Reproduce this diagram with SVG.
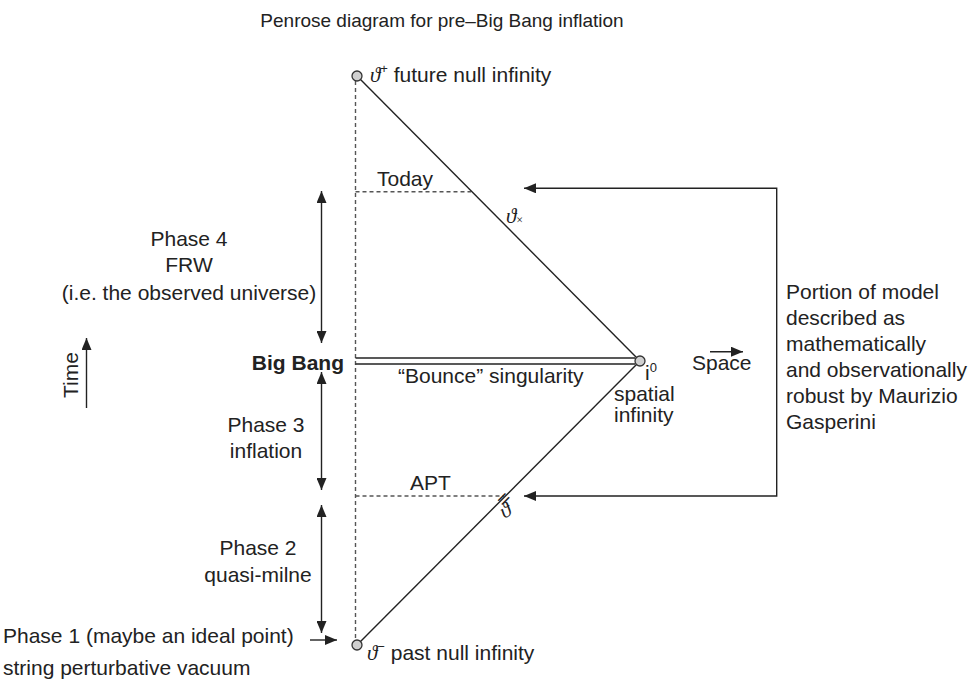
<svg xmlns="http://www.w3.org/2000/svg" width="977" height="685" viewBox="0 0 977 685">
<style>
text{font-family:"Liberation Sans",Arial,Helvetica,sans-serif;font-size:21px;fill:#222}
.title{font-size:19px}
.bold{font-weight:bold}
.scri{font-family:"Liberation Serif","DejaVu Serif",serif;font-style:italic;font-size:21px}
.sup{font-size:13px}
.ln{stroke:#222;stroke-width:1.4;fill:none}
.dash{stroke:#555;stroke-width:1.4;stroke-dasharray:4 3;fill:none}
.pt{fill:#d0d0d0;stroke:#333;stroke-width:1.3}
</style>
<defs>
<marker id="ah" viewBox="0 0 12 10" refX="12" refY="5" markerWidth="12" markerHeight="10" markerUnits="userSpaceOnUse" orient="auto-start-reverse">
<path d="M0,0 L12,5 L0,10 Z" fill="#222"/>
</marker>
</defs>
<text class="title" x="442" y="27" text-anchor="middle">Penrose diagram for pre–Big Bang inflation</text>
<g id="connectors">
<line class="dash" x1="355.5" y1="81" x2="355.5" y2="640"/>
<line class="ln" x1="360.5" y1="79.5" x2="636.5" y2="357.5"/>
<line class="ln" x1="636.5" y1="364.5" x2="360.5" y2="641.5"/>
<line class="ln" x1="355.5" y1="358" x2="635" y2="358"/>
<line class="ln" x1="355.5" y1="364" x2="635" y2="364"/>
<line class="dash" x1="355.5" y1="191.7" x2="471" y2="191.7"/>
<line class="dash" x1="355.5" y1="496" x2="504" y2="496"/>
<path class="ln" d="M524,188.3 H776.7 V496 H524" marker-start="url(#ah)" marker-end="url(#ah)"/>
<line class="ln" x1="321.5" y1="191" x2="321.5" y2="343" marker-start="url(#ah)" marker-end="url(#ah)"/>
<line class="ln" x1="321.5" y1="372" x2="321.5" y2="490" marker-start="url(#ah)" marker-end="url(#ah)"/>
<line class="ln" x1="321.5" y1="505" x2="321.5" y2="633" marker-start="url(#ah)" marker-end="url(#ah)"/>
<line class="ln" x1="86.5" y1="408" x2="86.5" y2="338" marker-end="url(#ah)"/>
<line class="ln" x1="310" y1="640" x2="337" y2="640" marker-end="url(#ah)"/>
<line class="ln" x1="710" y1="351.7" x2="743" y2="351.7" marker-end="url(#ah)"/>
</g>
<g id="future-null-infinity">
<circle class="pt" cx="357" cy="76" r="5"/>
<text x="370" y="82"><tspan class="scri">ϑ</tspan><tspan class="sup" dy="-9">+</tspan><tspan dy="9"> future null infinity</tspan></text>
</g>
<g id="spatial-infinity">
<circle class="pt" cx="640" cy="361" r="5"/>
<text x="645" y="380">i<tspan class="sup" dy="-8">0</tspan></text>
<text x="614" y="401">spatial</text>
<text x="614" y="422">infinity</text>
</g>
<g id="past-null-infinity">
<circle class="pt" cx="357" cy="645" r="5"/>
<text x="367" y="660"><tspan class="scri">ϑ</tspan><tspan class="sup" dy="-9">−</tspan><tspan dy="9"> past null infinity</tspan></text>
</g>
<g id="today"><text x="377" y="186">Today</text></g>
<g id="apt"><text x="410" y="490">APT</text></g>
<g id="scri-plus-label"><text class="scri" x="506" y="223" font-size="21">ϑ<tspan font-size="12" font-style="normal" dy="1">×</tspan></text></g>
<g id="scri-minus-label">
<text class="scri" x="500" y="517" font-size="20" transform="rotate(-30 506 510)">ϑ</text>
<text x="500" y="506" font-size="13" transform="rotate(-45 505 502)">=</text>
</g>
<g id="phase4">
<text x="189" y="246" text-anchor="middle">Phase 4</text>
<text x="189" y="272" text-anchor="middle">FRW</text>
<text x="189" y="300" text-anchor="middle">(i.e. the observed universe)</text>
</g>
<g id="big-bang"><text class="bold" x="344" y="370" text-anchor="end">Big Bang</text></g>
<g id="bounce"><text x="398" y="383">“Bounce” singularity</text></g>
<g id="time"><text x="78" y="375" text-anchor="middle" transform="rotate(-90 78 375)">Time</text></g>
<g id="space"><text x="692" y="370">Space</text></g>
<g id="phase3">
<text x="266" y="432" text-anchor="middle">Phase 3</text>
<text x="266" y="458" text-anchor="middle">inflation</text>
</g>
<g id="phase2">
<text x="258" y="555" text-anchor="middle">Phase 2</text>
<text x="258" y="582" text-anchor="middle">quasi-milne</text>
</g>
<g id="phase1">
<text x="3" y="643">Phase 1 (maybe an ideal point)</text>
<text x="3" y="675">string perturbative vacuum</text>
</g>
<g id="gasperini">
<text x="786" y="299">Portion of model</text>
<text x="786" y="325">described as</text>
<text x="786" y="351">mathematically</text>
<text x="786" y="377">and observationally</text>
<text x="786" y="403">robust by Maurizio</text>
<text x="786" y="429">Gasperini</text>
</g>
</svg>
